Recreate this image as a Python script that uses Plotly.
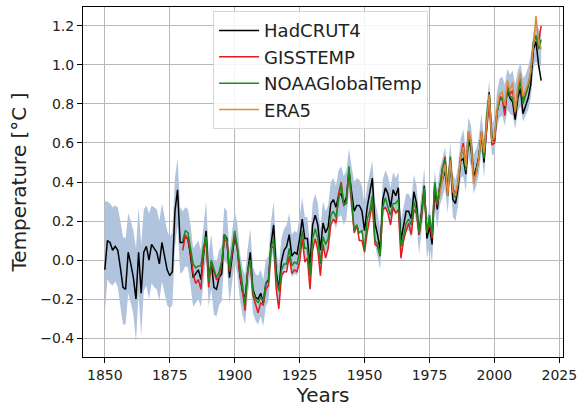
import plotly.graph_objects as go

# Years
years_had = list(range(1850, 2019))
years_giss = list(range(1880, 2019))
years_noaa = list(range(1880, 2019))
years_era = list(range(1979, 2019))

# HadCRUT4 (black), 1850-2018
hadcrut4 = [
    -0.05, 0.10, 0.09, 0.05, 0.07, 0.05, -0.04, -0.14, -0.15, 0.04,   # 1850s
    -0.02, -0.09, -0.20, 0.04, -0.17, 0.04, 0.07, 0.00, 0.08, 0.06,   # 1860s
    0.04, -0.02, 0.09, 0.02, -0.05, -0.08, -0.06, 0.25, 0.36, 0.09,   # 1870s
    0.09, 0.12, 0.11, 0.02, -0.09, -0.07, -0.05, -0.10, 0.01, 0.15,   # 1880s
    -0.10, -0.01, -0.14, -0.15, -0.09, -0.07, 0.13, 0.11, -0.09, 0.03,  # 1890s
    0.12, 0.06, -0.08, -0.16, -0.20, -0.06, 0.04, -0.15, -0.19, -0.20,  # 1900s
    -0.17, -0.22, -0.12, -0.10, 0.08, 0.18, -0.06, -0.15, -0.01, 0.05,  # 1910s
    0.07, 0.13, 0.02, 0.04, 0.03, 0.11, 0.21, 0.11, 0.11, -0.03,      # 1920s
    0.18, 0.23, 0.18, 0.05, 0.19, 0.14, 0.17, 0.29, 0.31, 0.27,       # 1930s
    0.33, 0.34, 0.29, 0.32, 0.46, 0.35, 0.25, 0.28, 0.28, 0.25,       # 1940s
    0.15, 0.27, 0.35, 0.42, 0.19, 0.13, 0.05, 0.31, 0.37, 0.34,       # 1950s
    0.27, 0.36, 0.33, 0.37, 0.10, 0.18, 0.25, 0.25, 0.21, 0.35,       # 1960s
    0.29, 0.13, 0.26, 0.38, 0.11, 0.17, 0.08, 0.37, 0.26, 0.38,       # 1970s
    0.41, 0.46, 0.33, 0.51, 0.31, 0.29, 0.37, 0.51, 0.52, 0.44,       # 1980s
    0.62, 0.57, 0.43, 0.47, 0.53, 0.65, 0.50, 0.71, 0.86, 0.63,       # 1990s
    0.61, 0.76, 0.82, 0.83, 0.77, 0.87, 0.83, 0.81, 0.72, 0.83,       # 2000s
    0.88, 0.75, 0.79, 0.83, 0.90, 1.08, 1.12, 1.00, 0.92,             # 2010s
]

# Uncertainty band (lower / upper), 1850-2018
band_lo = [
    -0.27, -0.10, -0.12, -0.13, -0.11, -0.14, -0.24, -0.33, -0.33, -0.17,
    -0.22, -0.28, -0.42, -0.17, -0.39, -0.16, -0.13, -0.20, -0.12, -0.14,
    -0.15, -0.21, -0.11, -0.18, -0.23, -0.25, -0.23, 0.06, 0.18, -0.07,
    -0.06, -0.03, -0.04, -0.13, -0.24, -0.22, -0.20, -0.24, -0.13, 0.01,
    -0.24, -0.15, -0.28, -0.29, -0.23, -0.21, 0.00, -0.02, -0.22, -0.10,
    -0.01, -0.07, -0.20, -0.28, -0.33, -0.18, -0.08, -0.27, -0.31, -0.33,
    -0.29, -0.34, -0.24, -0.21, -0.03, 0.07, -0.17, -0.26, -0.12, -0.06,
    -0.04, 0.02, -0.09, -0.07, -0.08, 0.00, 0.10, 0.00, 0.00, -0.14,
    0.07, 0.12, 0.07, -0.06, 0.08, 0.03, 0.06, 0.18, 0.20, 0.16,
    0.22, 0.23, 0.18, 0.21, 0.35, 0.24, 0.13, 0.16, 0.16, 0.13,
    0.04, 0.16, 0.24, 0.31, 0.08, 0.02, -0.05, 0.21, 0.27, 0.24,
    0.17, 0.26, 0.23, 0.26, 0.00, 0.08, 0.15, 0.15, 0.11, 0.25,
    0.19, 0.03, 0.16, 0.28, 0.01, 0.07, -0.02, 0.27, 0.16, 0.28,
    0.32, 0.37, 0.24, 0.42, 0.22, 0.20, 0.28, 0.42, 0.43, 0.35,
    0.53, 0.48, 0.34, 0.38, 0.44, 0.56, 0.42, 0.62, 0.75, 0.54,
    0.54, 0.68, 0.73, 0.74, 0.69, 0.77, 0.75, 0.74, 0.67, 0.76,
    0.79, 0.71, 0.74, 0.77, 0.83, 0.98, 1.02, 0.98, 1.00,
]
band_hi = [
    0.30, 0.30, 0.29, 0.27, 0.28, 0.27, 0.20, 0.12, 0.11, 0.24,
    0.20, 0.15, 0.06, 0.27, 0.08, 0.26, 0.28, 0.24, 0.28, 0.27,
    0.26, 0.20, 0.29, 0.22, 0.15, 0.12, 0.14, 0.42, 0.52, 0.27,
    0.25, 0.27, 0.26, 0.18, 0.06, 0.08, 0.10, 0.05, 0.16, 0.30,
    0.04, 0.13, 0.00, -0.01, 0.05, 0.07, 0.27, 0.25, 0.04, 0.16,
    0.25, 0.19, 0.04, -0.04, -0.08, 0.06, 0.16, -0.03, -0.07, -0.08,
    -0.05, -0.10, 0.00, 0.02, 0.20, 0.30, 0.06, -0.03, 0.11, 0.16,
    0.18, 0.24, 0.13, 0.15, 0.14, 0.22, 0.32, 0.22, 0.22, 0.08,
    0.29, 0.34, 0.29, 0.16, 0.30, 0.25, 0.28, 0.40, 0.42, 0.38,
    0.46, 0.48, 0.43, 0.46, 0.57, 0.48, 0.40, 0.42, 0.41, 0.38,
    0.28, 0.38, 0.45, 0.51, 0.30, 0.24, 0.16, 0.41, 0.46, 0.43,
    0.37, 0.45, 0.42, 0.45, 0.20, 0.28, 0.34, 0.34, 0.31, 0.44,
    0.38, 0.23, 0.36, 0.47, 0.21, 0.27, 0.18, 0.46, 0.36, 0.47,
    0.52, 0.58, 0.44, 0.60, 0.44, 0.41, 0.48, 0.62, 0.67, 0.56,
    0.73, 0.69, 0.54, 0.57, 0.63, 0.75, 0.62, 0.80, 0.92, 0.70,
    0.72, 0.86, 0.93, 0.94, 0.90, 0.98, 0.95, 0.97, 0.90, 0.97,
    1.01, 0.93, 0.95, 0.99, 1.05, 1.16, 1.22, 1.18, 1.15,
]

# GISSTEMP (red), 1880-2018
gisstemp = [
    0.05, 0.13, 0.10, 0.04, -0.07, -0.12, -0.10, -0.15, 0.04, 0.11,
    -0.14, -0.01, -0.06, -0.10, -0.09, -0.01, 0.10, 0.10, -0.06, 0.04,
    0.13, 0.06, -0.07, -0.16, -0.26, -0.05, -0.01, -0.18, -0.22, -0.27,
    -0.22, -0.23, -0.15, -0.13, 0.06, 0.07, -0.15, -0.25, -0.08, -0.06,
    -0.06, 0.02, -0.07, -0.05, -0.06, -0.01, 0.11, -0.01, 0.01, -0.15,
    0.05, 0.11, 0.05, -0.08, 0.08, 0.01, 0.06, 0.18, 0.21, 0.19,
    0.34, 0.40, 0.28, 0.30, 0.45, 0.30, 0.14, 0.18, 0.10, 0.10,
    0.04, 0.14, 0.22, 0.29, 0.08, 0.07, 0.02, 0.26, 0.27, 0.24,
    0.18, 0.27, 0.24, 0.26, 0.01, 0.10, 0.15, 0.19, 0.13, 0.26,
    0.24, 0.13, 0.22, 0.37, 0.14, 0.20, 0.11, 0.39, 0.28, 0.37,
    0.47, 0.53, 0.35, 0.52, 0.37, 0.33, 0.39, 0.53, 0.60, 0.48,
    0.66, 0.61, 0.43, 0.44, 0.52, 0.66, 0.54, 0.67, 0.82, 0.59,
    0.60, 0.75, 0.84, 0.83, 0.74, 0.89, 0.85, 0.87, 0.75, 0.86,
    0.93, 0.82, 0.85, 0.89, 0.96, 1.11, 1.15, 1.12, 1.20,
]

# NOAAGlobalTemp (green), 1880-2018
noaa = [
    0.10, 0.15, 0.14, 0.07, -0.02, -0.04, -0.03, -0.03, 0.07, 0.12,
    -0.11, 0.00, -0.05, -0.09, -0.06, -0.01, 0.13, 0.10, -0.05, 0.06,
    0.15, 0.07, -0.03, -0.15, -0.23, -0.06, 0.00, -0.16, -0.20, -0.22,
    -0.19, -0.21, -0.12, -0.11, 0.06, 0.11, -0.09, -0.16, -0.05, -0.02,
    -0.02, 0.06, -0.03, -0.01, -0.02, 0.04, 0.15, 0.06, 0.06, -0.08,
    0.11, 0.16, 0.11, -0.02, 0.12, 0.08, 0.11, 0.23, 0.25, 0.22,
    0.31, 0.39, 0.28, 0.29, 0.48, 0.29, 0.15, 0.18, 0.14, 0.15,
    0.05, 0.21, 0.25, 0.33, 0.10, 0.08, 0.02, 0.27, 0.32, 0.27,
    0.23, 0.29, 0.29, 0.31, 0.07, 0.12, 0.19, 0.21, 0.18, 0.30,
    0.25, 0.14, 0.24, 0.37, 0.14, 0.23, 0.13, 0.40, 0.29, 0.38,
    0.47, 0.52, 0.36, 0.53, 0.35, 0.32, 0.39, 0.53, 0.57, 0.46,
    0.62, 0.60, 0.45, 0.46, 0.52, 0.65, 0.52, 0.74, 0.85, 0.62,
    0.62, 0.76, 0.82, 0.83, 0.79, 0.88, 0.84, 0.83, 0.76, 0.86,
    0.92, 0.80, 0.84, 0.89, 0.96, 1.12, 1.15, 1.08, 1.13,
]

# ERA5 (orange), 1979-2018
era5 = [
    0.33,
    0.42, 0.49, 0.33, 0.51, 0.35, 0.33, 0.41, 0.53, 0.58, 0.48,
    0.66, 0.61, 0.39, 0.44, 0.52, 0.66, 0.55, 0.71, 0.85, 0.61,
    0.63, 0.77, 0.85, 0.86, 0.79, 0.92, 0.87, 0.91, 0.76, 0.89,
    0.96, 0.84, 0.87, 0.91, 0.97, 1.10, 1.25, 1.12, 1.08,
]

x_ticks = [1850, 1875, 1900, 1925, 1950, 1975, 2000, 2025]
y_ticks = [-0.4, -0.2, 0.0, 0.2, 0.4, 0.6, 0.8, 1.0, 1.2]
y_ticklabels = ["\u22120.4", "\u22120.2", "0.0", "0.2", "0.4", "0.6", "0.8", "1.0", "1.2"]

FONT = "DejaVu Sans"
BAND = "rgb(176,196,222)"

fig = go.Figure()
fig.add_trace(go.Scatter(x=years_had, y=band_lo, mode="lines", line=dict(width=0),
                         showlegend=False, hoverinfo="skip"))
fig.add_trace(go.Scatter(x=years_had, y=band_hi, mode="lines", line=dict(width=0),
                         fill="tonexty", fillcolor=BAND, showlegend=False, hoverinfo="skip"))
fig.add_trace(go.Scatter(x=years_had, y=hadcrut4, mode="lines", name="HadCRUT4",
                         line=dict(color="black", width=1.5)))
fig.add_trace(go.Scatter(x=years_giss, y=gisstemp, mode="lines", name="GISSTEMP",
                         line=dict(color="#e41a1c", width=1.5)))
fig.add_trace(go.Scatter(x=years_noaa, y=noaa, mode="lines", name="NOAAGlobalTemp",
                         line=dict(color="#1a8a1a", width=1.5)))
fig.add_trace(go.Scatter(x=years_era, y=era5, mode="lines", name="ERA5",
                         line=dict(color="#dd8a3c", width=1.5)))

axis_common = dict(showline=True, linecolor="black", linewidth=1, mirror=True,
                   ticks="outside", ticklen=5, tickcolor="black", tickwidth=1,
                   showgrid=True, gridcolor="#b8b8b8", gridwidth=1, zeroline=False,
                   ticklabeloverflow="allow", automargin=False,
                   tickfont=dict(family=FONT, size=14, color="#222"))

fig.update_layout(
    width=577, height=408,
    margin=dict(l=83, r=14, t=7, b=51, autoexpand=False),
    paper_bgcolor="white", plot_bgcolor="white",
    font=dict(family=FONT, color="#222"),
    xaxis=dict(range=[1841.6, 2026.4], tickmode="array", tickvals=x_ticks,
               ticktext=[str(v) for v in x_ticks],
               title=dict(text="Years", font=dict(family=FONT, size=20, color="#222"), standoff=4),
               **axis_common),
    yaxis=dict(range=[-0.497, 1.297], tickmode="array", tickvals=y_ticks, ticktext=y_ticklabels,
               title=dict(text="Temperature [\u00b0C ]", font=dict(family=FONT, size=20, color="#222"), standoff=8),
               **axis_common),
    legend=dict(x=0.271, y=0.988, xanchor="left", yanchor="top", traceorder="normal",
                bgcolor="rgba(255,255,255,0.85)", bordercolor="#d6d6d6", borderwidth=1,
                font=dict(family=FONT, size=18, color="#222"), itemwidth=40,
                tracegroupgap=0),
    showlegend=True,
)

fig.write_html("out.html")
